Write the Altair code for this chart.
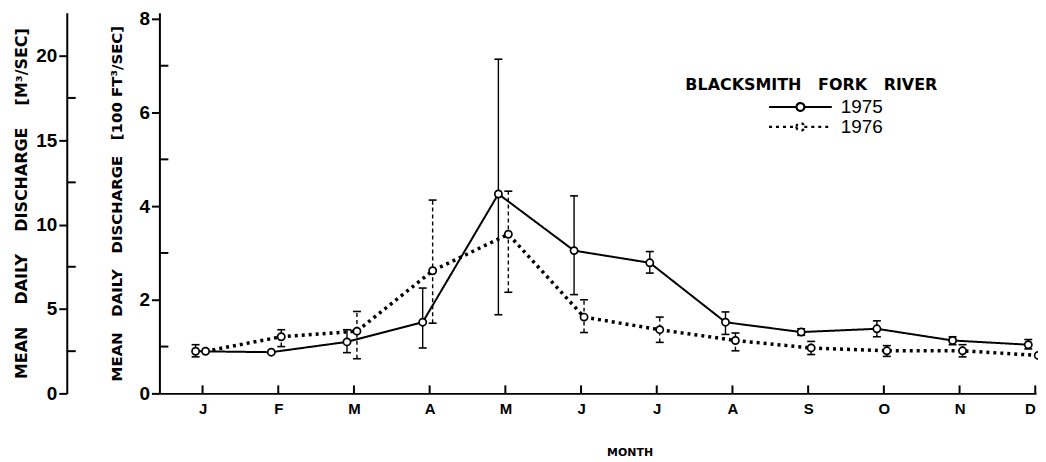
import json
import altair as alt
import pandas as pd

# ---- data ----
months = ["J", "F", "M", "A", "M", "J", "J", "A", "S", "O", "N", "D"]
years = ["1975", "1976"]
q1975 = [0.90, 0.88, 1.10, 1.52, 4.26, 3.05, 2.79, 1.52, 1.31, 1.38, 1.13, 1.04]
lo1975 = [0.78, None, 0.87, 0.97, 1.68, 2.11, 2.57, 1.26, 1.24, 1.21, 1.04, 0.95]
hi1975 = [1.04, None, 1.36, 2.25, 7.14, 4.22, 3.03, 1.74, 1.38, 1.55, 1.21, 1.15]
q1976 = [0.90, 1.21, 1.33, 2.62, 3.40, 1.63, 1.36, 1.13, 0.97, 0.91, 0.91, 0.81]
lo1976 = [None, 1.00, 0.74, 1.50, 2.16, 1.30, 1.09, 0.91, 0.83, 0.79, 0.78, None]
hi1976 = [None, 1.36, 1.75, 4.13, 4.32, 2.00, 1.63, 1.29, 1.11, 1.02, 1.04, None]
ft_major = [0, 2, 4, 6, 8]
ft_minor = [1, 3, 5, 7]
m3_major = [0, 5, 10, 15, 20]
m3_minor = [2.5, 7.5, 12.5, 17.5]

W, H = 880, 382
NB = "\u00a0"
FONT = "Liberation Sans"
TFONT = "DejaVu Sans"

def frame(year, q, lo, hi):
    return pd.DataFrame({"m": list(range(len(months))), "q": q, "lo": lo, "hi": hi, "year": year})

d75 = frame(years[0], q1975, lo1975, hi1975)
d76 = frame(years[1], q1976, lo1976, hi1976)

xscale = alt.Scale(domain=[-0.57, 11.01], nice=False, zero=False)
yscale = alt.Scale(domain=[0, 8.13], nice=False, zero=False)
m3scale = alt.Scale(domain=[0, 22.54], nice=False, zero=False)

label_expr = json.dumps(months) + "[datum.value]"
x_axis = alt.Axis(
    values=list(range(len(months))), labelExpr=label_expr, tickSize=0, grid=False,
    domainColor="black", domainWidth=2, labelFont=FONT, labelFontWeight="bold",
    labelFontSize=15, labelColor="black", labelPadding=8,
    title="MONTH", titleFont=TFONT, titleFontSize=11, titleFontWeight="bold",
    titleColor="black", titlePadding=30, titleX=472,
)
ft_axis = alt.Axis(
    orient="left", values=ft_major, format="d", tickSize=8, tickWidth=2, tickColor="black",
    domainColor="black", domainWidth=2, grid=False, labelFont=FONT, labelFontSize=19,
    labelFontWeight="bold", labelColor="black", labelPadding=2,
    title=f"MEAN{NB*3}DAILY{NB*3}DISCHARGE{NB*3}[100 FT³/SEC]", titleFont=TFONT,
    titleFontSize=15, titleFontWeight="bold", titleColor="black", titlePadding=14,
    titleLimit=420,
)
m3_axis = alt.Axis(
    orient="left", offset=93, values=m3_major, format="d", tickSize=8, tickWidth=2,
    tickColor="black", domainColor="black", domainWidth=2, grid=False, labelFont=FONT,
    labelFontSize=19, labelFontWeight="bold", labelColor="black", labelPadding=2,
    title=f"MEAN{NB*4}DAILY{NB*4}DISCHARGE{NB*4}[M³/SEC]", titleFont=TFONT,
    titleFontSize=16, titleFontWeight="bold", titleColor="black", titlePadding=6,
    titleLimit=420,
)

sym_path = "M-4,0L-0.5,0M0.5,0L4,0M-0.5,0A0.5,0.5,0,1,0,0.5,0A0.5,0.5,0,1,0,-0.5,0"
legend = alt.Legend(
    orient="none", legendX=528, legendY=64, padding=0,
    title=f"BLACKSMITH{NB*3}FORK{NB*3}RIVER", titleFont=TFONT, titleFontSize=16,
    titleFontWeight="bold", titleColor="black", titlePadding=5, titleLimit=400,
    symbolType=sym_path, symbolSize=248, symbolStrokeWidth=2.2, symbolStrokeColor="black",
    symbolFillColor="white", symbolOffset=106, labelOffset=31,
    labelFont=FONT, labelFontSize=19, labelColor="black", rowPadding=0,
)
dash_scale = alt.Scale(domain=years, range=[[1, 0], [3, 4]])

X = alt.X("m:Q", scale=xscale, axis=x_axis)

def Y(field):
    return alt.Y(field, scale=yscale, axis=ft_axis)

def series(df, off, lw, line_dash, err_dash):
    base = alt.Chart(df)
    err = base.mark_rule(color="black", strokeWidth=1.4, strokeDash=err_dash, xOffset=off).encode(
        x=X, y=Y("lo:Q"), y2="hi:Q")
    caps = base.transform_fold(["lo", "hi"], as_=["end", "cv"]).mark_rule(
        color="black", strokeWidth=1.6, xOffset=off - 4, x2Offset=off + 4).encode(
        x=X, x2="m:Q", y=Y("cv:Q"))
    line = base.mark_line(color="black", strokeWidth=lw, strokeDash=line_dash, xOffset=off).encode(
        x=X, y=Y("q:Q"),
        strokeDash=alt.StrokeDash("year:N", scale=dash_scale, legend=legend))
    pts = base.mark_point(shape="circle", fill="white", stroke="black", strokeWidth=1.7,
                          size=52, opacity=1, xOffset=off).encode(x=X, y=Y("q:Q"))
    return err, caps, line, pts

xticks = alt.Chart(pd.DataFrame({"m": list(range(len(months)))})).mark_rule(
    color="black", strokeWidth=2).encode(x=X, y=alt.value(H), y2=alt.value(H - 8))
ftminor = alt.Chart(pd.DataFrame({"t": ft_minor})).mark_rule(color="black", strokeWidth=2).encode(
    y=Y("t:Q"), x=alt.value(0), x2=alt.value(9))

e75, c75, l75, p75 = series(d75, -7, 2.0, [1, 0], [1, 0])
e76, c76, l76, p76 = series(d76, 3, 3.5, [3, 4], [4, 3])

inner = alt.layer(xticks, ftminor, e76, c76, e75, c75, l76, l75, p76, p75)

m3 = alt.Chart(pd.DataFrame({"t": m3_minor})).mark_rule(color="black", strokeWidth=2).encode(
    y=alt.Y("t:Q", scale=m3scale, axis=m3_axis), x=alt.value(-93), x2=alt.value(-84))

chart = alt.layer(inner, m3).resolve_scale(y="independent").properties(
    width=W, height=H,
    padding={"left": 152, "top": 4, "right": 2, "bottom": 64},
    autosize=alt.AutoSizeParams(type="none"),
).configure_view(stroke=None)

chart.save("out.html", embed_options={"renderer": "svg", "actions": False})
